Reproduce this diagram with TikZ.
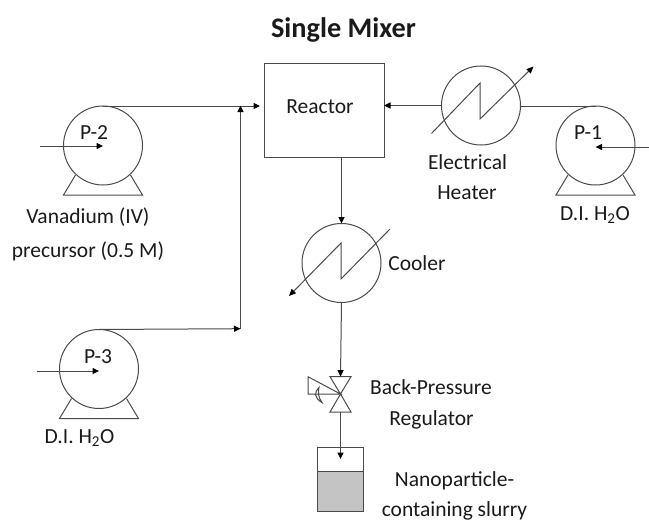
\documentclass[tikz,border=0pt]{standalone}
\usepackage{fontspec}
\setmainfont{Carlito}
\usetikzlibrary{arrows.meta,calc}
\definecolor{ln}{HTML}{4A4A4A}
\definecolor{tx}{HTML}{1A1A1A}
\definecolor{slurry}{HTML}{C4C4C4}
\tikzset{
  lin/.style={draw=ln,line width=1pt},
  flow/.style={lin,-{Triangle[length=6.5pt,width=6pt,color=black]}},
  round/.style={circle,lin,minimum size=79pt,inner sep=0pt,outer sep=0pt},
  lab/.style={text=tx,font=\fontsize{21.5}{25}\selectfont,inner sep=0pt,align=center},
}
\newcommand{\pumpbase}[1]{\draw[lin] ($(#1.center)+(-27.5,29.5)$) -- ($(#1.center)+(-39.5,49.5)$) -- ($(#1.center)+(39.5,49.5)$) -- ($(#1.center)+(27.5,29.5)$);}
\begin{document}
\begin{tikzpicture}[x=1pt,y=-1pt]
\useasboundingbox (0,0) rectangle (649,522);
\node[lab,font=\fontsize{28.3}{32}\selectfont\bfseries] (title) at (343.5,29.5) {Single Mixer};
% main equipment
\node[lin,minimum width=120pt,minimum height=94pt,inner sep=0pt,outer sep=0pt] (reactor) at (324,110) {};
\node[lab] (reactortxt) at (320,107) {Reactor};
\node[round] (heater) at (481,105.5) {};
\node[round] (cooler) at (341.5,263) {};
\node[round] (p1) at (595.5,145.5) {};
\node[round] (p2) at (103,145.5) {};
\node[round] (p3) at (99,369) {};
\pumpbase{p1}\pumpbase{p2}\pumpbase{p3}
\node[lab,anchor=center] (p1t) at (588,133) {P-1};
\node[lab,anchor=center] (p2t) at (94,133) {P-2};
\node[lab,anchor=center] (p3t) at (98,357) {P-3};
% inlets
\coordinate (in1) at (649,147); \coordinate (in2) at (40,146); \coordinate (in3) at (37,371);
\draw[flow] (in1) -- (in1 -| p1.center);
\draw[flow] (in2) -- (in2 -| p2.center);
\draw[flow] (in3) -- (in3 -| p3.center);
% connectors
\coordinate (j3) at (240.5,328.7);
\coordinate (j2) at (240.5,105.5);
\draw[flow] (p2.north) -- ($(p2.north -| reactor.west)+(-4,0)$);
\draw[flow] (p3.north) -- (j3);
\draw[flow] (j3) -- (j2);
\draw[lin] (p1.north) -- (p1.north -| heater.east);
\draw[flow] (heater.west) -- (heater.west -| reactor.east);
\draw[flow] (reactor.south -| cooler.north) -- (cooler.north);
% zigzags
\draw[lin,-{Triangle[length=7pt,width=6pt,color=black]}] ($(heater.center)+(-49.5,28)$) -- ($(heater.center)+(-1,-22.5)$) -- ($(heater.center)+(-1,13.5)$) -- ($(heater.center)+(52.5,-39)$);
\draw[lin,-{Triangle[length=7pt,width=6pt,color=black]}] ($(cooler.center)+(48.5,-34)$) -- ($(cooler.center)+(-0.5,16)$) -- ($(cooler.center)+(-0.5,-20)$) -- ($(cooler.center)+(-52.5,33)$);
% valve
\coordinate (v) at (340.5,394);
\coordinate (vt) at (340.5,376.7);
\coordinate (vb) at (340.5,412);
\draw[lin] (v) -- ($(vt)+(-10.5,0)$) -- ($(vt)+(10.5,0)$) -- cycle;
\draw[lin] (v) -- ($(vb)+(-10.5,0)$) -- ($(vb)+(10.5,0)$) -- cycle;
\draw[lin] (v) -- (308,376.7) -- (308,394) -- cycle;
\draw[lin] (319,387.5) .. controls (314,392) and (314,398) .. (322,402.5) .. controls (318,397) and (318,392) .. cycle;
\draw[flow] (cooler.south) -- (vt);
% vessel
\node[lin,minimum width=46.5pt,minimum height=64pt,inner sep=0pt,outer sep=0pt,anchor=north west] (vessel) at (317,447) {};
\path[fill=slurry,draw=ln,line width=1pt] (317,471) rectangle (363.5,511);
\draw[flow] (vb) -- (340.5,459);
% labels
\node[lab] (l1) at (467.5,162) {Electrical};
\node[lab] (l2) at (467,193) {Heater};
\node[lab] (l3) at (595,215) {D.I. H\textsubscript{2}O};
\node[lab] (l4) at (88,217) {Vanadium (IV)};
\node[lab] (l5) at (88,251) {precursor (0.5 M)};
\node[lab] (l6) at (79.5,438) {D.I. H\textsubscript{2}O};
\node[lab] (l7) at (417,263) {Cooler};
\node[lab] (l8) at (431,387) {Back-Pressure};
\node[lab] (l9) at (431.5,420) {Regulator};
\node[lab] (l10) at (454.5,480.5) {Nanoparticle-};
\node[lab] (l11) at (454.5,510.5) {containing slurry};
\end{tikzpicture}
\end{document}
